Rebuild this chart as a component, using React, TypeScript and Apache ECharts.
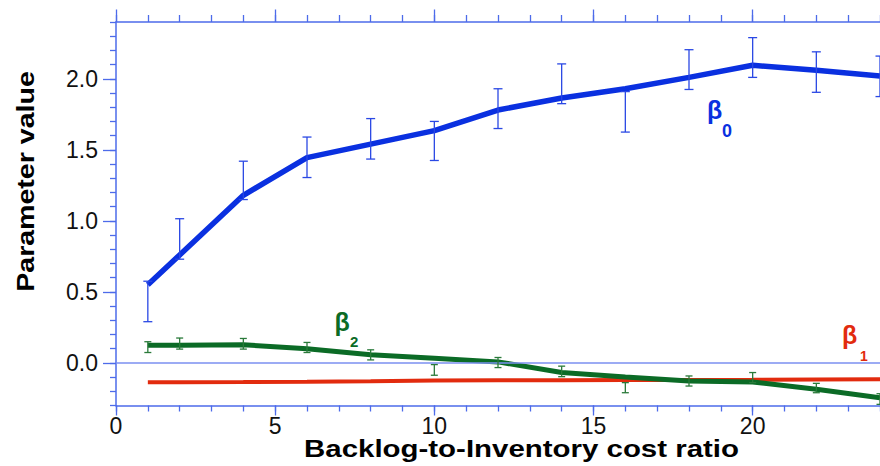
import React, { useEffect, useRef } from "react";
import * as echarts from "echarts";

const xValues = [1, 2, 4, 6, 8, 10, 12, 14, 16, 18, 20, 22, 24];
const beta0 = [0.55, 0.76, 1.18, 1.445, 1.54, 1.635, 1.78, 1.865, 1.93, 2.01, 2.095, 2.06, 2.02];
const beta0Low = [0.29, 0.73, 1.15, 1.305, 1.435, 1.425, 1.65, 1.825, 1.625, 1.925, 2.01, 1.905, 1.875];
const beta0High = [0.575, 1.015, 1.42, 1.59, 1.72, 1.7, 1.93, 2.105, 1.91, 2.205, 2.29, 2.19, 2.16];
const beta2 = [0.125, 0.125, 0.127, 0.1, 0.057, 0.033, 0.007, -0.068, -0.099, -0.127, -0.134, -0.186, -0.245];
const beta2Low = [0.073, 0.097, 0.097, 0.073, 0.021, -0.087, -0.033, -0.097, -0.21, -0.163, -0.139, -0.21, -0.292];
const beta2High = [0.149, 0.175, 0.172, 0.144, 0.092, -0.012, 0.038, -0.023, -0.139, -0.092, -0.068, -0.144, -0.217];
const beta1 = [-0.137, -0.136, -0.135, -0.133, -0.13, -0.124, -0.123, -0.122, -0.121, -0.12, -0.119, -0.117, -0.115];

const xMajorTicks = [0, 5, 10, 15, 20];
const yMajorTicks = [0, 0.5, 1.0, 1.5, 2.0];

const BLUE = "#0a30e0";
const BLUE_ERR = "#2a48e4";
const GREEN = "#0b6b26";
const GREEN_ERR = "#2a7a3a";
const RED = "#e22b0e";
const AXIS = "#4d6bea";
const FONT = '"Liberation Sans", Arial, Helvetica, sans-serif';

function errorSeries(lo: number[], hi: number[], color: string, cap: number) {
  return {
    type: "custom",
    xAxisIndex: 0,
    yAxisIndex: 0,
    silent: true,
    z: 5,
    data: xValues.map((x, i) => [x, lo[i], hi[i]]),
    renderItem: (params: any, api: any) => {
      const x = api.value(0);
      const pLo = api.coord([x, api.value(1)]);
      const pHi = api.coord([x, api.value(2)]);
      const w = cap / 2;
      const style = { stroke: color, lineWidth: 1.3 };
      return {
        type: "group",
        children: [
          { type: "line", shape: { x1: pLo[0], y1: pLo[1], x2: pHi[0], y2: pHi[1] }, style },
          { type: "line", shape: { x1: pLo[0] - w, y1: pLo[1], x2: pLo[0] + w, y2: pLo[1] }, style },
          { type: "line", shape: { x1: pHi[0] - w, y1: pHi[1], x2: pHi[0] + w, y2: pHi[1] }, style },
        ],
      };
    },
  };
}

export default function App() {
  const ref = useRef<HTMLDivElement>(null);
  useEffect(() => {
    if (!ref.current) return;
    const chart = echarts.init(ref.current, null, { renderer: "svg" });
    const axisLine = { show: true, onZero: false, lineStyle: { color: AXIS, width: 1.5 } };
    const noLine = { show: false, onZero: false };
    const tickStyle = { color: AXIS, width: 1.3 };
    const baseX = { type: "value", min: 0, max: 24, splitLine: { show: false } };
    const baseY = { type: "value", min: -0.3, max: 2.4, splitLine: { show: false } };
    chart.setOption({
      animation: false,
      grid: { left: 116, right: 0, top: 22, bottom: 60.5, containLabel: false },
      xAxis: [
        {
          ...baseX,
          position: "bottom",
          interval: 1,
          axisLine,
          axisTick: { show: true, inside: false, length: 6, lineStyle: tickStyle },
          axisLabel: {
            show: true,
            customValues: xMajorTicks,
            fontSize: 23,
            fontFamily: FONT,
            color: "#111",
            margin: 9,
          },
        },
        {
          ...baseX,
          position: "bottom",
          interval: 1,
          axisLine: noLine,
          axisTick: { show: true, customValues: xMajorTicks, length: 10, lineStyle: tickStyle },
          axisLabel: { show: false },
        },
        {
          ...baseX,
          position: "top",
          interval: 1,
          axisLine,
          axisTick: { show: true, length: 7, lineStyle: tickStyle },
          axisLabel: { show: false },
        },
        {
          ...baseX,
          position: "top",
          interval: 1,
          axisLine: noLine,
          axisTick: { show: true, customValues: xMajorTicks, length: 12.5, lineStyle: tickStyle },
          axisLabel: { show: false },
        },
      ],
      yAxis: [
        {
          ...baseY,
          position: "left",
          interval: 0.1,
          axisLine,
          axisTick: { show: true, length: 6, lineStyle: tickStyle },
          axisLabel: { show: false },
        },
        {
          ...baseY,
          position: "left",
          interval: 0.1,
          axisLine: noLine,
          axisTick: { show: true, customValues: yMajorTicks, length: 13, lineStyle: tickStyle },
          axisLabel: {
            show: true,
            customValues: yMajorTicks,
            formatter: (v: number) => v.toFixed(1),
            fontSize: 23,
            fontFamily: FONT,
            color: "#111",
            margin: 18,
          },
        },
      ],
      series: [
        {
          type: "line",
          name: "beta1",
          xAxisIndex: 0,
          yAxisIndex: 0,
          data: xValues.map((x, i) => [x, beta1[i]]),
          showSymbol: false,
          lineStyle: { color: RED, width: 4 },
          itemStyle: { color: RED },
          z: 2,
          markLine: {
            silent: true,
            symbol: "none",
            label: { show: false },
            lineStyle: { color: "#7b8ff0", width: 1.5, type: "solid" },
            data: [{ yAxis: 0 }],
          },
        },
        {
          type: "line",
          name: "beta2",
          xAxisIndex: 0,
          yAxisIndex: 0,
          data: xValues.map((x, i) => [x, beta2[i]]),
          showSymbol: false,
          lineStyle: { color: GREEN, width: 5 },
          itemStyle: { color: GREEN },
          z: 3,
        },
        {
          type: "line",
          name: "beta0",
          xAxisIndex: 0,
          yAxisIndex: 0,
          data: xValues.map((x, i) => [x, beta0[i]]),
          showSymbol: false,
          lineStyle: { color: BLUE, width: 5.5 },
          itemStyle: { color: BLUE },
          z: 3,
        },
        errorSeries(beta0Low, beta0High, BLUE_ERR, 9),
        errorSeries(beta2Low, beta2High, GREEN_ERR, 7),
      ],
      graphic: [
        {
          type: "text",
          x: 521.5,
          y: 449.6,
          scaleX: 1.28,
          style: {
            text: "Backlog-to-Inventory cost ratio",
            fontSize: 23,
            fontWeight: "bold",
            fontFamily: FONT,
            fill: "#000",
            align: "center",
            verticalAlign: "middle",
          },
        },
        {
          type: "text",
          x: 25.6,
          y: 181.5,
          rotation: Math.PI / 2,
          scaleX: 1.19,
          style: {
            text: "Parameter value",
            fontSize: 24,
            fontWeight: "bold",
            fontFamily: FONT,
            fill: "#000",
            align: "center",
            verticalAlign: "middle",
          },
        },
        { type: "text", x: 707, y: 110.3, style: { text: "β", fontSize: 25, fontWeight: "bold", fontFamily: FONT, fill: BLUE, align: "left", verticalAlign: "middle" } },
        { type: "text", x: 722, y: 131, style: { text: "0", fontSize: 18, fontWeight: "bold", fontFamily: FONT, fill: BLUE, align: "left", verticalAlign: "middle" } },
        { type: "text", x: 334.5, y: 322.3, style: { text: "β", fontSize: 25, fontWeight: "bold", fontFamily: FONT, fill: GREEN, align: "left", verticalAlign: "middle" } },
        { type: "text", x: 350, y: 341, style: { text: "2", fontSize: 15, fontWeight: "bold", fontFamily: FONT, fill: GREEN, align: "left", verticalAlign: "middle" } },
        { type: "text", x: 842, y: 335.3, style: { text: "β", fontSize: 25, fontWeight: "bold", fontFamily: FONT, fill: RED, align: "left", verticalAlign: "middle" } },
        { type: "text", x: 860, y: 355.7, style: { text: "1", fontSize: 14, fontWeight: "bold", fontFamily: FONT, fill: RED, align: "left", verticalAlign: "middle" } },
      ],
    });
    return () => chart.dispose();
  }, []);
  return (
    <div
      ref={ref}
      style={{ position: "absolute", left: 0, top: 0, width: 880, height: 466, background: "#fff" }}
    />
  );
}
